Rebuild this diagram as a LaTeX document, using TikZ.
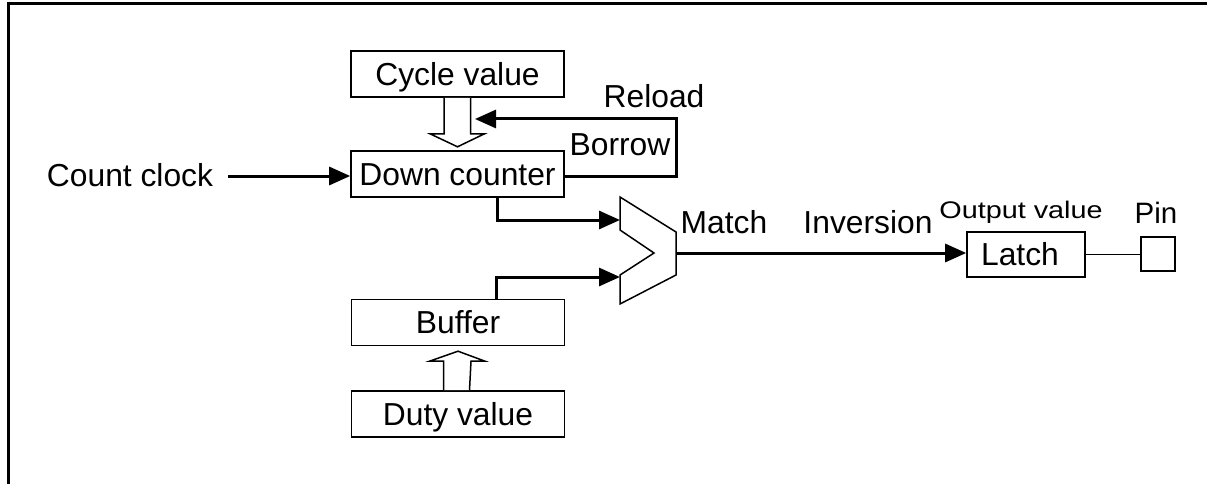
\documentclass[tikz,border=0pt]{standalone}
\usepackage{fontspec}
\setmainfont{Liberation Sans}
\usetikzlibrary{arrows.meta,calc}
\begin{document}
\begin{tikzpicture}[x=1pt,y=-1pt,
  lbl/.style={font=\fontsize{31.8}{38}\selectfont, inner sep=0pt, anchor=base},
  blk/.style={draw, line width=1.6pt, font=\fontsize{31.8}{38}\selectfont, inner sep=0pt,
    minimum width=213pt, minimum height=46pt, text height=22.8pt, text depth=0pt},
  sig/.style={line width=3pt, -{Triangle[length=21pt,width=18pt]}},
  hollow/.style={draw, line width=1.5pt, fill=white, line join=miter}]
\useasboundingbox (0,0) rectangle (1207,484);
% frame
\draw[line width=3pt] (8,484) -- (8,4) -- (1207,4);
% blocks
\node[blk] (cyc) at (457.5,74) {Cycle value};
\node[blk] (dc) at (457.5,174) {Down counter};
\node[blk] (buf) at (458,322.5) {Buffer};
\node[blk] (duty) at (458,414) {Duty value};
\node[blk, minimum width=118pt, minimum height=45pt] (latch) at (1026,254.5) {\hspace*{-12pt}Latch};
\node[draw, line width=1.5pt, minimum width=34pt, minimum height=34pt, inner sep=0pt] (pin) at (1158,254) {};
% labels
\node[lbl] (cc) at (130,186) {Count clock};
\node[lbl] (reload) at (654,108) {Reload};
\node[lbl] (borrow) at (620,155) {Borrow};
\node[lbl] (match) at (724,233) {Match};
\node[lbl] (inv) at (868,233) {Inversion};
\node[lbl, font=\fontsize{24}{28}\selectfont] (outv) at (1021,218) {\scalebox{1.2}[1]{Output value}};
\node[lbl, font=\fontsize{29.5}{34}\selectfont] (pinlbl) at (1156,223) {Pin};
% comparator
\draw[line width=1.5pt, line join=miter] (620,197) -- (676,232) -- (676,275) -- (620,304) -- (620,275) -- (654,253) -- (620,230) -- cycle;
\coordinate (cin1) at (620,220);
\coordinate (cin2) at (620,277);
\coordinate (cout) at (676,253);
% hollow arrows
\draw[hollow] ($(cyc.south)+(-13.5,0)$) -- ++(0,36) -- ++(-14,0) -- ($(cyc.south)+(0,49)$) -- ($(cyc.south)+(27,36)$) -- ++(-14,0) -- ($(cyc.south)+(13,0)$);
\draw[hollow] ($(duty.north)+(-14.5,0)$) -- ++(0,-29) -- ++(-14,0) -- ($(duty.north)+(0,-39)$) -- ($(duty.north)+(27,-29)$) -- ++(-14,0) -- ($(duty.north)+(11.5,0)$);
% signals
\coordinate (rtip) at (475,119);
\draw[sig] (dc.east |- 0,176) -- (676,176) |- (rtip);
\draw[sig] ($(cc.base east)+(15,-10)$) -- (dc.west |- 0,176);
\draw[sig] ($(dc.south)+(39.5,0)$) |- (cin1);
\draw[sig] ($(buf.north)+(38,0)$) |- (cin2);
\draw[sig] (cout) -- (latch.west |- cout);
\draw[line width=1pt] (latch.east |- 0,254) -- (pin.west);
\end{tikzpicture}
\end{document}
